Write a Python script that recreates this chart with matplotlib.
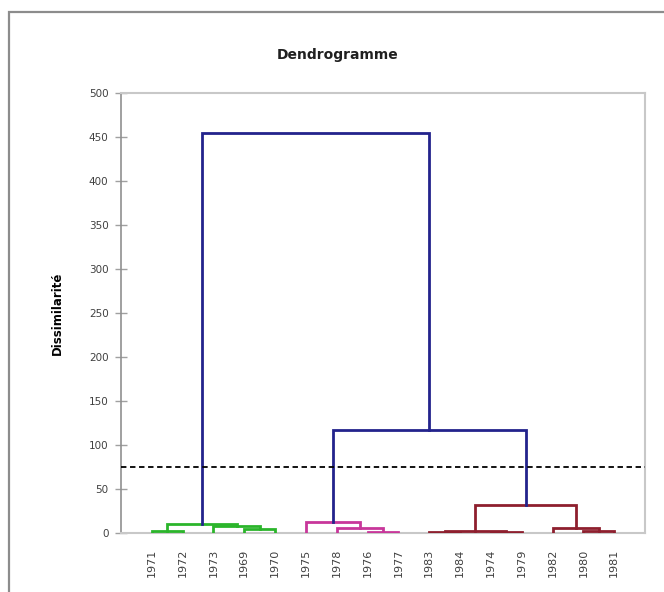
import matplotlib
matplotlib.use("Agg")
import matplotlib.pyplot as plt
from matplotlib.patches import Rectangle

# Leaves in dendrogram order
leaves = ["1971", "1972", "1973", "1969", "1970", "1975", "1978", "1976",
          "1977", "1983", "1984", "1974", "1979", "1982", "1980", "1981"]

# Linkage: node n (n >= len(leaves)) joins merge_a[k] and merge_b[k] at heights[k]
merge_a = [0, 3, 2, 16, 7, 6, 5, 9, 11, 23, 14, 13, 25, 22, 19]
merge_b = [1, 4, 17, 18, 8, 20, 21, 10, 12, 24, 15, 26, 27, 28, 29]
heights = [2, 5, 8, 10, 1.5, 5.5, 12, 1, 1, 2, 2, 5.5, 32, 117, 455]
groups = ["g", "g", "g", "g", "p", "p", "p", "r", "r", "r", "r", "r", "r", "b", "b"]

cut_level = 75
y_ticks = [0, 50, 100, 150, 200, 250, 300, 350, 400, 450, 500]

group_colors = {"g": "#2BB52B", "p": "#C8379A", "r": "#8E1F2E", "b": "#23238C"}

fig = plt.figure(figsize=(6.64, 5.92), dpi=100)
fig.patch.set_facecolor("white")

# Chart frame
fig.add_artist(Rectangle((9 / 664, -0.1), 1.2, (1 - 12 / 592) + 0.1,
                         transform=fig.transFigure, fill=False,
                         edgecolor="#8C8C8C", linewidth=1.6))

ax = fig.add_axes([121 / 664, 1 - 533 / 592, (645 - 121) / 664, (533 - 93) / 592])

n = len(leaves)
xpos = {i: i + 1 for i in range(n)}
ypos = {i: 0.0 for i in range(n)}

for k, (a, b, h, g) in enumerate(zip(merge_a, merge_b, heights, groups)):
    node = n + k
    xa, xb = xpos[a], xpos[b]
    ya, yb = ypos[a], ypos[b]
    ax.plot([xa, xa, xb, xb], [ya, h, h, yb], color=group_colors[g],
            linewidth=2, solid_joinstyle="miter", zorder=3)
    xpos[node] = (xa + xb) / 2
    ypos[node] = h

ax.axhline(cut_level, color="black", linestyle=(0, (3, 2)), linewidth=1.3, zorder=4)

ax.set_xlim(0, n + 1)
ax.set_ylim(0, 500)
ax.set_yticks(y_ticks)
ax.set_xticks(range(1, n + 1))
ax.set_xticklabels(leaves, rotation=90, fontsize=8, color="#404040")
ax.tick_params(axis="x", length=0, pad=11)
ax.tick_params(axis="y", direction="inout", length=8, width=1, color="#A0A0A0",
               labelsize=7.5, labelcolor="#404040", pad=5)

for side in ["top", "right", "bottom"]:
    ax.spines[side].set_color("#C8C8C8")
    ax.spines[side].set_linewidth(1.5)
ax.spines["left"].set_color("#909090")
ax.spines["left"].set_linewidth(1.2)

ax.set_ylabel("Dissimilarité", fontsize=8.5, fontweight="bold", labelpad=18)
fig.text(338 / 664, 1 - 55 / 592, "Dendrogramme", ha="center", va="center",
         fontsize=10, fontweight="bold", color="#202020")

fig.savefig("out.png", dpi=100)
